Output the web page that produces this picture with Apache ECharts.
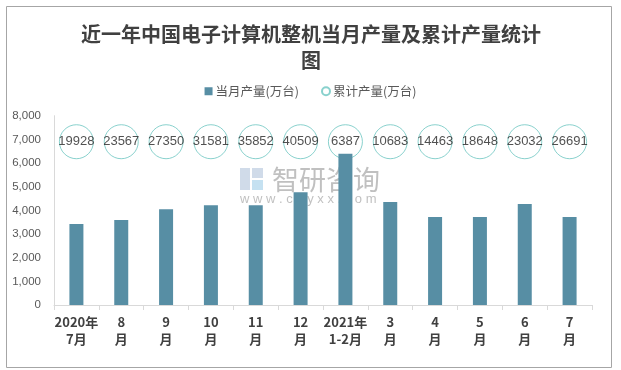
<!DOCTYPE html>
<html>
<head>
<meta charset="utf-8">
<script src="https://cdn.jsdelivr.net/npm/echarts@6/dist/echarts.min.js"></script>
<style>html,body{margin:0;padding:0;background:#fff}#c{width:621px;height:370px}</style>
</head>
<body>
<div id="c"></div>
<script>
var categories = ['2020年\n7月','8\n月','9\n月','10\n月','11\n月','12\n月','2021年\n1-2月','3\n月','4\n月','5\n月','6\n月','7\n月'];
var monthlyOutput = [3420, 3590, 4050, 4220, 4220, 4770, 6387, 4350, 3720, 3720, 4270, 3720];
var cumulativeOutput = [19928, 23567, 27350, 31581, 35852, 40509, 6387, 10683, 14463, 18648, 23032, 26691];
var yTicks = [0, 1000, 2000, 3000, 4000, 5000, 6000, 7000, 8000];
var bubbleLevel = 6900;

var chart = echarts.init(document.getElementById('c'), null, {renderer: 'canvas'});
var cjk = '"Noto Sans CJK SC", "Liberation Sans", sans-serif';
chart.setOption({
  animation: false,
  backgroundColor: '#fff',
  title: {
    text: '近一年中国电子计算机整机当月产量及累计产量统计\n图',
    left: 306,
    top: 16,
    textAlign: 'center',
    textStyle: {fontFamily: cjk, fontSize: 20, fontWeight: 'bold', color: '#404040', lineHeight: 26, align: 'center'}
  },
  legend: {
    top: 80,
    left: 'center',
    itemWidth: 8,
    itemHeight: 8,
    itemGap: 22,
    textStyle: {fontFamily: cjk, fontSize: 12.5, color: '#595959', padding: [0, 0, 0, -2]},
    data: [
      {name: '当月产量(万台)', icon: 'rect'},
      {name: '累计产量(万台)', icon: 'circle'}
    ]
  },
  grid: {left: 54, right: 29, top: 115.7, bottom: 65},
  xAxis: {
    type: 'category',
    data: categories,
    axisLine: {lineStyle: {color: '#d9d9d9'}},
    axisTick: {show: true, interval: 0, length: 5, lineStyle: {color: '#d9d9d9'}},
    axisLabel: {interval: 0, margin: 9, fontFamily: cjk, fontSize: 13, fontWeight: 'bold', color: '#404040', lineHeight: 17}
  },
  yAxis: {
    type: 'value',
    min: yTicks[0],
    max: yTicks[yTicks.length - 1],
    interval: 1000,
    axisLine: {show: true, lineStyle: {color: '#d9d9d9'}},
    axisTick: {show: false},
    splitLine: {show: false},
    axisLabel: {
      margin: 13,
      fontFamily: '"Liberation Sans", sans-serif',
      fontSize: 11.5,
      color: '#595959',
      formatter: function (v) { return v.toLocaleString('en-US'); }
    }
  },
  graphic: [
    {type: 'rect', shape: {x: 6.5, y: 6.5, width: 605, height: 361}, style: {fill: 'none', stroke: '#a6a6a6', lineWidth: 1}, z: 0, silent: true},
    {type: 'group', left: 240, top: 166, z: 100, silent: true, children: [
      {type: 'rect', shape: {x: 0, y: 0, width: 10, height: 22}, style: {fill: 'rgba(170,190,215,0.55)'}},
      {type: 'rect', shape: {x: 12, y: 0, width: 11, height: 10}, style: {fill: 'rgba(170,190,215,0.55)'}},
      {type: 'rect', shape: {x: 12, y: 12, width: 11, height: 10}, style: {fill: 'rgba(150,200,230,0.55)'}},
      {type: 'text', style: {x: 32, y: -2, text: '智研咨询', font: '27px "Noto Sans CJK SC"', fill: 'rgba(140,140,140,0.55)'}},
      {type: 'text', style: {x: 0, y: 25, text: 'w w w . c h y x x . c o m', font: '13px "Liberation Sans"', fill: 'rgba(140,140,140,0.55)'}}
    ]}
  ],
  series: [
    {
      name: '累计产量(万台)',
      type: 'scatter',
      data: monthlyOutput.map(function () { return bubbleLevel; }),
      symbol: 'circle',
      symbolSize: 34,
      z: 2,
      itemStyle: {color: 'rgba(255,255,255,0)', borderColor: '#6cc5c0', borderWidth: 1},
      label: {
        show: true,
        position: 'inside',
        fontFamily: '"Liberation Sans", sans-serif',
        fontSize: 13,
        color: '#262626',
        formatter: function (p) { return String(cumulativeOutput[p.dataIndex]); }
      }
    },
    {
      name: '当月产量(万台)',
      type: 'bar',
      data: monthlyOutput,
      barWidth: 14,
      z: 3,
      itemStyle: {color: '#578ea4'}
    }
  ]
});
</script>
</body>
</html>
